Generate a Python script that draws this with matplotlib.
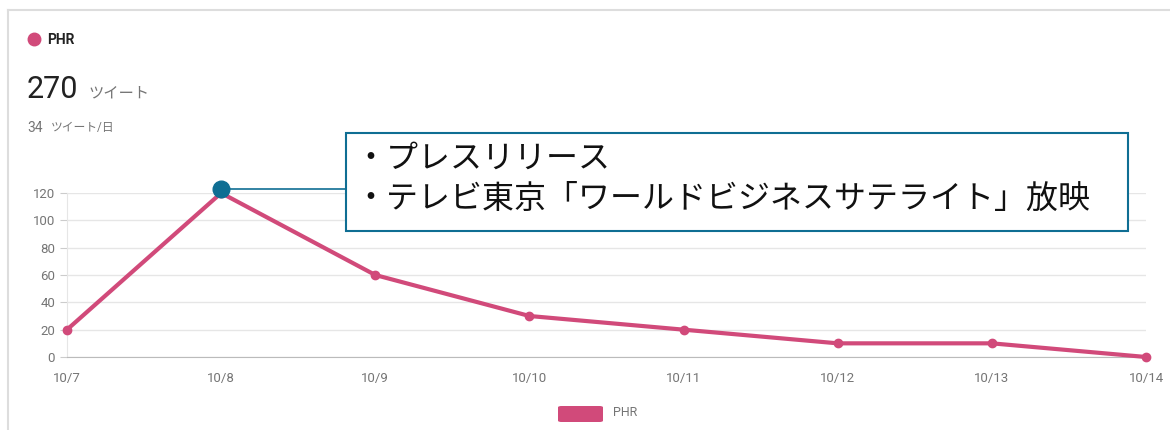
import matplotlib.pyplot as plt
from matplotlib.lines import Line2D
from matplotlib.patches import FancyBboxPatch, Rectangle

plt.rcParams['font.family'] = ['Roboto', 'Noto Sans CJK JP', 'DejaVu Sans']

# データ
dates = ["10/7", "10/8", "10/9", "10/10", "10/11", "10/12", "10/13", "10/14"]
tweets = [20, 120, 60, 30, 20, 10, 10, 0]
yticks = [0, 20, 40, 60, 80, 100, 120]
series_name = "PHR"
total_label = "270"
per_day_label = "34"
note_lines = ["・プレスリリース", "・テレビ東京「ワールドビジネスサテライト」放映"]
peak_idx = 1

pink = "#d14a7a"
blue = "#0f6e93"
grey = "#757575"

W, H = 1170, 430
fig = plt.figure(figsize=(W / 100, H / 100), dpi=100)

# カードの枠
fig.add_artist(Line2D([8 / W, 8 / W], [0, 1 - 10 / H], color="#dddddd", lw=1.5))
fig.add_artist(Line2D([8 / W, 1], [1 - 10 / H, 1 - 10 / H], color="#dddddd", lw=1.5))

# ヘッダー
fig.add_artist(Line2D([34 / W], [1 - 39 / H], marker="o", ms=9, color=pink))
fig.text(47 / W, 1 - 40 / H, series_name, fontsize=10, fontweight="bold",
         va="center", ha="left", color="#222222")
fig.text(27 / W, 1 - 89 / H, total_label, fontsize=22, va="center", ha="left", color="#222222")
fig.text(88 / W, 1 - 93 / H, "ツイート", fontsize=11, va="center", ha="left", color=grey)
fig.text(27 / W, 1 - 128 / H, per_day_label, fontsize=10, va="center", ha="left", color=grey)
fig.text(51 / W, 1 - 128 / H, "ツイート/日", fontsize=8.5, va="center", ha="left", color=grey)

# グラフ本体
ax = fig.add_axes([67 / W, 1 - 357 / H, (1146 - 67) / W, (357 - 193) / H])
x = list(range(len(dates)))
ax.plot(x, tweets, color=pink, lw=3, marker="o", ms=6, clip_on=False, zorder=3)
ax.set_xlim(0, len(dates) - 1)
ax.set_ylim(0, 120)
ax.set_yticks(yticks)
ax.set_xticks(x)
ax.set_xticklabels(dates)
ax.grid(axis="y", color="#e6e6e6", lw=1)
ax.set_axisbelow(True)
for s in ["top", "right"]:
    ax.spines[s].set_visible(False)
ax.spines["left"].set_color("#e6e6e6")
ax.spines["bottom"].set_color("#bbbbbb")
ax.tick_params(axis="y", colors=grey, labelsize=9.5, length=5, color="#cccccc")
ax.tick_params(axis="x", colors=grey, labelsize=9.5, length=0, pad=11)

# 注釈
ax.plot([peak_idx], [tweets[peak_idx] + 3], marker="o", ms=12, color=blue,
        clip_on=False, zorder=5)
fig.add_artist(Line2D([221 / W, 346 / W], [1 - 189 / H, 1 - 189 / H], color=blue, lw=1.2))
fig.add_artist(Rectangle((346 / W, 1 - 231 / H), (1128 - 346) / W, (231 - 133) / H,
                         transform=fig.transFigure, facecolor="white",
                         edgecolor=blue, lw=1.5, zorder=6))
for i, line in enumerate(note_lines):
    fig.text(354 / W, 1 - (159 + 40 * i) / H, line, fontsize=23, va="center",
             ha="left", color="#111111", family=['Noto Sans CJK JP', 'DejaVu Sans'],
             zorder=7)

# 凡例
fig.add_artist(FancyBboxPatch((558 / W, 1 - 422 / H), 45 / W, 16 / H,
                              boxstyle="round,pad=0,rounding_size=0.003",
                              transform=fig.transFigure, facecolor=pink, edgecolor="none"))
fig.text(613 / W, 1 - 413 / H, series_name, fontsize=9, va="center", ha="left", color=grey)

fig.savefig("out.png", dpi=100)
